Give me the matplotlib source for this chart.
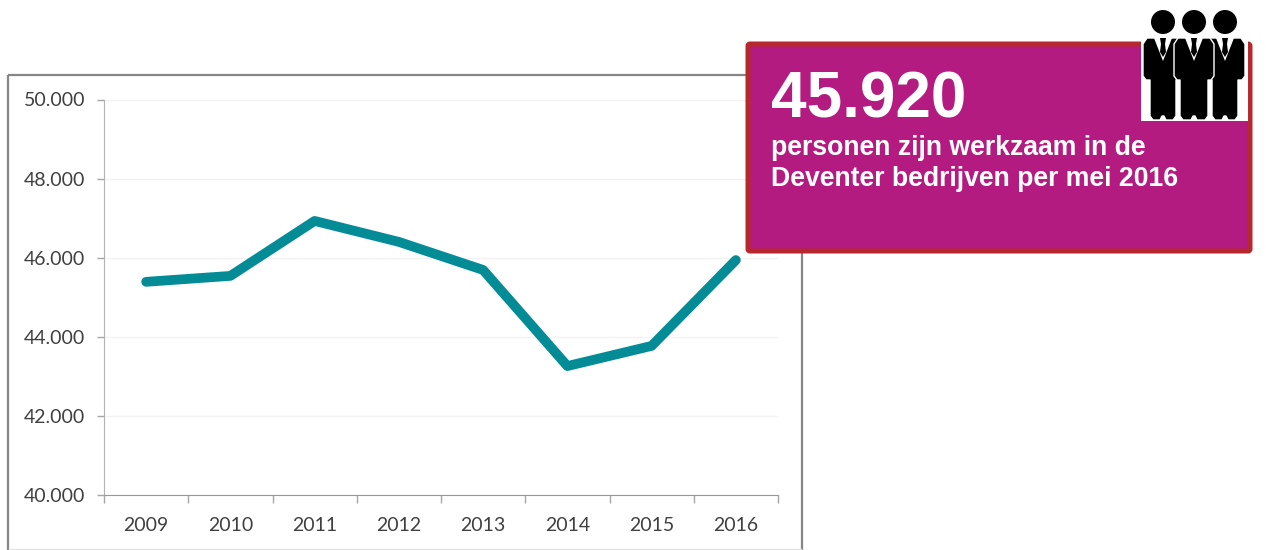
"""Werkzame personen Deventer, 2009-2016"""

import matplotlib
matplotlib.use('Agg')
import matplotlib.pyplot as plt
from matplotlib.patches import Rectangle, FancyBboxPatch, Circle, Polygon

W, H = 1266, 550

years = ['2009', '2010', '2011', '2012', '2013', '2014', '2015', '2016']
werkzaam = [45390, 45540, 46930, 46400, 45690, 43260, 43770, 45940]
y_ticks = [40000, 42000, 44000, 46000, 48000, 50000]
y_labels = ['40.000', '42.000', '44.000', '46.000', '48.000', '50.000']

big_number = '45.920'
card_lines = ['personen zijn werkzaam in de', 'Deventer bedrijven per mei 2016']

TEAL = '#038C96'
MAGENTA = '#B41B81'
RED = '#B7282E'

fig = plt.figure(figsize=(W / 100, H / 100), dpi=100, facecolor='white')

# overlay in pixels, for frame / card / icon
bg = fig.add_axes([0, 0, 1, 1], zorder=0)
bg.set_xlim(0, W)
bg.set_ylim(H, 0)
bg.axis('off')
bg.add_patch(Rectangle((8, 75), 794, 480, fill=False, ec='#868686', lw=1.6))
bg.plot([9, 801], [549, 549], color='#E6E6E6', lw=1)

# ── line chart ────────────────────────────────────────────
left, right, top, bottom = 104, 778, 99.5, 495
ax = fig.add_axes([left / W, 1 - bottom / H, (right - left) / W, (bottom - top) / H], zorder=1)
ax.patch.set_alpha(0)
xs = [i + 0.5 for i in range(len(years))]
ax.plot(xs, werkzaam, color=TEAL, lw=7, solid_capstyle='round', solid_joinstyle='round', zorder=3)
ax.set_xlim(0, len(years))
ax.set_ylim(40000, 50000)
ax.set_yticks(y_ticks, y_labels, family='Lato', fontsize=14, color='#404040')
ax.set_xticks(range(len(years) + 1), [''] * (len(years) + 1))
ax.set_xticks(xs, years, minor=True, family='Lato', fontsize=14, color='#404040')
ax.tick_params(axis='x', which='major', length=6, width=1, color='#A6A6A6')
ax.tick_params(axis='x', which='minor', length=0, pad=15.5)
ax.tick_params(axis='y', length=5, width=1, color='#A6A6A6', pad=8.3)
ax.grid(axis='y', color='#F2F2F2', lw=1)
ax.set_axisbelow(True)
for side in ['top', 'right']:
    ax.spines[side].set_visible(False)
ax.spines['left'].set_color('#B3B3B3')
ax.spines['bottom'].set_color('#999999')

# ── card + icon ───────────────────────────────────────────
fg = fig.add_axes([0, 0, 1, 1], zorder=2)
fg.set_xlim(0, W)
fg.set_ylim(H, 0)
fg.axis('off')
fg.add_patch(FancyBboxPatch((748, 44), 502, 207, boxstyle='round,pad=0,rounding_size=2',
                            fc=MAGENTA, ec=RED, lw=3.6))
fg.text(771, 118, big_number, family='Liberation Sans', weight='bold', fontsize=46, color='white')
fg.text(771, 155, card_lines[0], family='Liberation Sans', weight='bold', fontsize=19.15, color='white')
fg.text(771, 186, card_lines[1], family='Liberation Sans', weight='bold', fontsize=19.15, color='white')

fg.add_patch(Rectangle((1141, 8), 107, 113, fc='white', ec='none'))


def person(cx, leg):
    fg.add_patch(Circle((cx, 22), 12, fc='black', ec='none'))
    body = [
        (cx - 16, 38), (cx + 16, 38), (cx + 20, 44), (cx + 20, 76), (cx + 17, 80),
        (cx + leg, 80), (cx + leg, 116), (cx + leg - 3, 120), (cx + 3, 120), (cx + 1, 116),
        (cx - 1, 116), (cx - 3, 120), (cx - leg + 3, 120), (cx - leg, 116), (cx - leg, 80),
        (cx - 17, 80), (cx - 20, 76), (cx - 20, 44),
    ]
    fg.add_patch(Polygon(body, closed=True, fc='black', ec='white', lw=1.0, joinstyle='round'))
    # overhemd en stropdas
    fg.add_patch(Polygon([(cx - 9, 38), (cx + 9, 38), (cx, 61)], fc='white', ec='none'))
    tie = [(cx - 3, 38), (cx + 3, 38), (cx + 2, 44), (cx + 3, 52), (cx, 57), (cx - 3, 52), (cx - 2, 44)]
    fg.add_patch(Polygon(tie, fc='black', ec='none'))


person(1163, 13)
person(1225, 13)
person(1194, 14)

fig.savefig('out.png', dpi=100, facecolor='white')
